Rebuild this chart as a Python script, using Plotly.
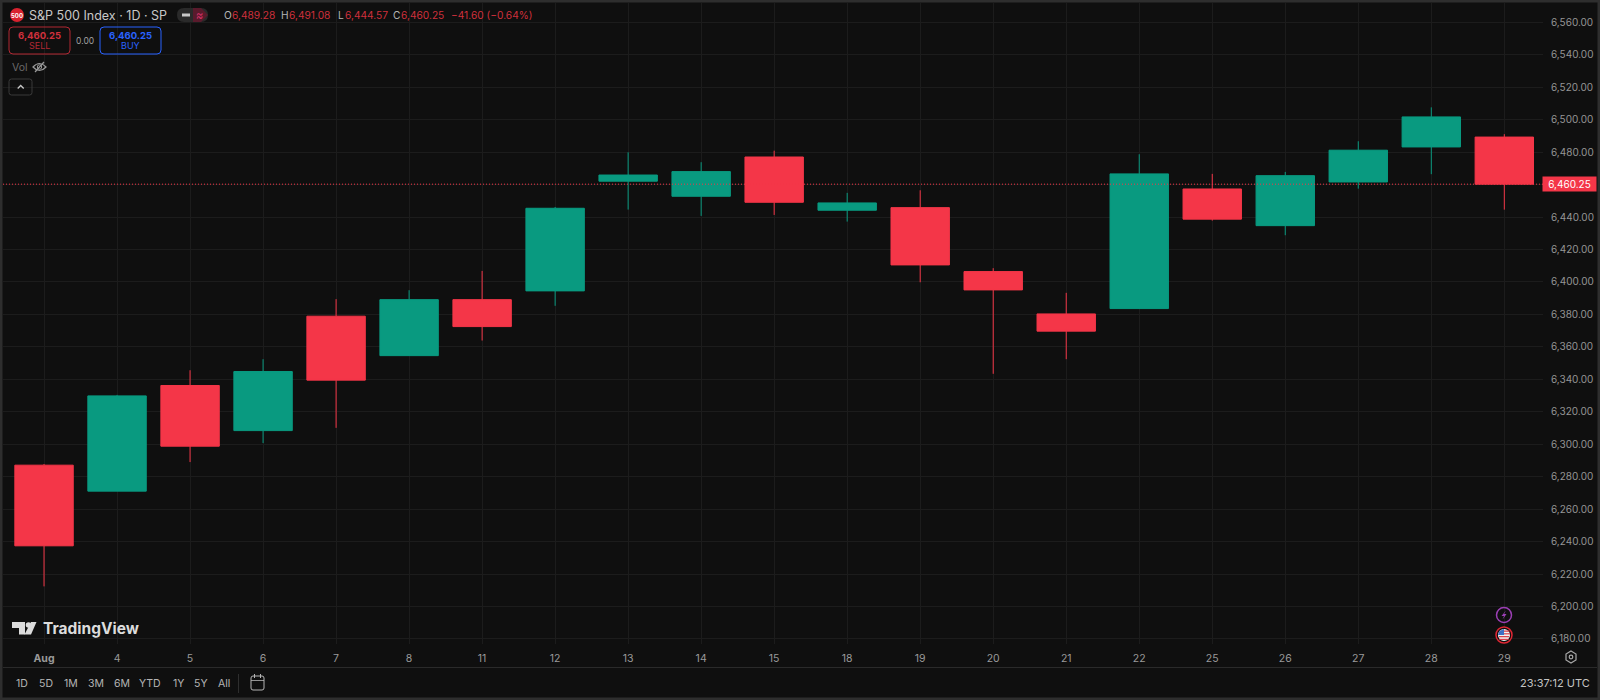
import plotly.graph_objects as go

W, H = 1600, 700
L, R, T, B = 3, 57, 3, 56

days = ["Aug", "4", "5", "6", "7", "8", "11", "12", "13", "14", "15", "18", "19", "20", "21", "22", "25", "26", "27", "28", "29"]
opens = [6287.1, 6271.1, 6336.2, 6308.4, 6378.9, 6354.6, 6389.1, 6394.5, 6462.1, 6452.8, 6477.0, 6444.2, 6445.8, 6406.4, 6380.3, 6383.6, 6457.3, 6434.7, 6461.6, 6483.2, 6489.28]
highs = [6287.8, 6330.4, 6345.6, 6352.4, 6389.4, 6394.9, 6406.8, 6446.2, 6479.9, 6473.8, 6480.9, 6454.9, 6456.5, 6408.5, 6393.3, 6478.7, 6466.6, 6467.8, 6486.7, 6507.6, 6491.08]
lows = [6212.4, 6271.1, 6289.0, 6300.7, 6310.1, 6354.6, 6363.9, 6385.3, 6444.6, 6440.7, 6441.3, 6437.2, 6399.8, 6343.4, 6352.4, 6383.6, 6437.8, 6428.8, 6457.5, 6466.4, 6444.57]
closes = [6237.4, 6329.8, 6298.8, 6344.8, 6339.5, 6389.1, 6372.5, 6445.4, 6465.9, 6468.0, 6449.1, 6448.7, 6410.5, 6395.1, 6369.7, 6466.6, 6438.7, 6465.5, 6481.2, 6501.7, 6460.25]
price_ticks = list(range(6180, 6561, 20))
range_buttons = ["1D", "5D", "1M", "3M", "6M", "YTD", "1Y", "5Y", "All"]
button_x = [22, 46, 71, 96, 122, 150, 178, 201, 224]

BG = "#0f0f0f"
GRID = "#1c1c1c"
RED = "#f43648"
GREEN = "#099a80"
TXT = "#b4b4b4"
FONT = "Inter"

fig = go.Figure(go.Candlestick(
    x=list(range(len(days))), open=opens, high=highs, low=lows, close=closes,
    whiskerwidth=0,
    increasing=dict(line=dict(color=GREEN, width=1), fillcolor=GREEN),
    decreasing=dict(line=dict(color=RED, width=1), fillcolor=RED),
    showlegend=False, hoverinfo="skip",
))

def X(p): return (p - L) / (W - L - R)
def Y(p): return 1 - (p - T) / (H - T - B)

ann, shp = [], []

def text(x, y, s, color=TXT, size=11, anchor="left"):
    ann.append(dict(xref="paper", yref="paper", x=X(x), y=Y(y), text=s, showarrow=False,
                    xanchor=anchor, yanchor="middle", font=dict(color=color, size=size, family=FONT)))

def rect(x0, y0, x1, y1, line=None, fill=None, w=1, radius=None):
    if radius:
        r = radius
        path = (f"M {X(x0+r)} {Y(y0)} L {X(x1-r)} {Y(y0)} Q {X(x1)} {Y(y0)} {X(x1)} {Y(y0+r)} "
                f"L {X(x1)} {Y(y1-r)} Q {X(x1)} {Y(y1)} {X(x1-r)} {Y(y1)} L {X(x0+r)} {Y(y1)} "
                f"Q {X(x0)} {Y(y1)} {X(x0)} {Y(y1-r)} L {X(x0)} {Y(y0+r)} Q {X(x0)} {Y(y0)} {X(x0+r)} {Y(y0)} Z")
        shp.append(dict(type="path", xref="paper", yref="paper", path=path, line=dict(color=line or "rgba(0,0,0,0)", width=w),
                        fillcolor=fill or "rgba(0,0,0,0)", layer="above"))
    else:
        shp.append(dict(type="rect", xref="paper", yref="paper", x0=X(x0), x1=X(x1), y0=Y(y0), y1=Y(y1),
                        line=dict(color=line or "rgba(0,0,0,0)", width=w if line else 0), fillcolor=fill or "rgba(0,0,0,0)", layer="above"))

def circle(cx, cy, r, line=None, fill=None, w=1):
    shp.append(dict(type="circle", xref="paper", yref="paper", x0=X(cx-r), x1=X(cx+r), y0=Y(cy-r), y1=Y(cy+r),
                    line=dict(color=line or "rgba(0,0,0,0)", width=w if line else 0), fillcolor=fill or "rgba(0,0,0,0)", layer="above"))

def poly(points, line=None, fill=None, w=1, close=True):
    path = "M " + " L ".join(f"{X(a)} {Y(b)}" for a, b in points) + (" Z" if close else "")
    shp.append(dict(type="path", xref="paper", yref="paper", path=path,
                    line=dict(color=line or "rgba(0,0,0,0)", width=w if line else 0),
                    fillcolor=fill or "rgba(0,0,0,0)", layer="above"))

# frame
rect(1, 1, 1599, 699, line="#2e2e2e", w=3)
rect(3, 667, 1597, 668, fill="#2a2a2a")

# last price line
shp.append(dict(type="line", xref="paper", yref="y", x0=X(L), x1=X(W - R), y0=closes[-1], y1=closes[-1],
                line=dict(color=RED, width=1, dash="1px,2px"), layer="above"))
ann.append(dict(xref="paper", yref="y", x=X(1569.5), y=closes[-1], text="6,460.25", showarrow=False,
                xanchor="center", yanchor="middle", bgcolor=RED, borderpad=1, width=51, height=12,
                font=dict(color="#ffffff", size=10, family=FONT)))

# header
circle(17, 15, 7, fill="#d9222f")
text(17, 15, "<b>500</b>", "#ffffff", 6, "center")
text(27, 15, "S&P 500 Index · 1D · SP", "#c8c8c8", 12.5)
rect(177, 8, 208, 22, fill="#2a2a2a", radius=7)
poly([(193, 8), (201, 8), (208, 15), (201, 22), (193, 22)], fill="#5a1a2c")
rect(182, 13.5, 190, 16.5, fill="#c8c8c8")
text(200, 15, "≈", "#d8336a", 11, "center")
header = [(222, "O", "6,489.28", 230), (279, "H", "6,491.08", 287), (336, "L", "6,444.57", 343), (391, "C", "6,460.25", 399)]
for x0, letter, val, x1 in header:
    text(x0, 15, letter, TXT, 10.2)
    text(x1, 15, val, "#d0303c", 10.2)
text(449, 15, "−41.60 (−0.64%)", "#d0303c", 10.2)

# sell/buy
rect(9, 27, 70, 54, line="#b22833", radius=4)
text(39.5, 35.5, "<b>6,460.25</b>", "#d0303c", 9.5, "center")
text(39.5, 46, "SELL", "#b22833", 9, "center")
text(85, 41, "0.00", "#a0a0a0", 8.5, "center")
rect(100, 27, 161, 54, line="#2962ff", radius=4)
text(130.5, 35.5, "<b>6,460.25</b>", "#2962ff", 9.5, "center")
text(130.5, 46, "BUY", "#2962ff", 9, "center")

# vol row
text(10, 67, "Vol", "#6a6a6a", 10.5)
shp.append(dict(type="path", xref="paper", yref="paper", layer="above", line=dict(color="#9a9a9a", width=1.2),
                path=f"M {X(33)} {Y(67)} Q {X(39.5)} {Y(60)} {X(46)} {Y(67)} Q {X(39.5)} {Y(74)} {X(33)} {Y(67)} Z"))
circle(39.5, 67, 2.2, line="#9a9a9a", w=1)
poly([(35, 72), (44, 62)], line="#9a9a9a", w=1.2, close=False)
rect(9, 79, 32, 95, line="#3a3a3a", radius=2.5)
poly([(17.7, 88.5), (20.7, 85.5), (23.7, 88.5)], line="#c8c8c8", w=1.3, close=False)

# TradingView logo
poly([(12, 622), (25, 622), (25, 634.5), (19, 634.5), (19, 628), (12, 628)], fill="#dcdcdc")
circle(28.5, 625, 2.8, fill="#dcdcdc")
poly([(31, 622), (36.5, 622), (31, 634.5), (24.5, 634.5)], fill="#dcdcdc")
text(41, 628, "<b>TradingView</b>", "#dcdcdc", 15.5)

# event icons
circle(1504, 615, 7.5, line="#9c3fb5", w=1.5)
poly([(1506, 610.5), (1501.5, 616), (1504, 616), (1502.5, 619.5), (1506.5, 614), (1504, 614)], fill="#9c3fb5")
circle(1504, 635, 8, line="#e02734", w=1.5, fill=BG)
circle(1504, 635, 6, fill="#f2f2f2")
rect(1499, 636, 1509, 637.3, fill="#d8434f")
rect(1499.5, 638.8, 1508.5, 640, fill="#d8434f")
rect(1504, 630.5, 1509.5, 631.8, fill="#d8434f")
rect(1504, 633.2, 1510, 634.4, fill="#d8434f")
poly([(1504, 629), (1504, 635), (1498, 635), (1499.5, 631)], fill="#3c6fc4")

# gear
poly([(1571, 651), (1576, 654), (1576, 660), (1571, 663), (1566, 660), (1566, 654)], line="#a8a8a8", w=1.2)
circle(1571, 657, 1.8, line="#a8a8a8", w=1.2)

# bottom toolbar
for label, x in zip(range_buttons, button_x):
    text(x, 683, label, TXT, 10.5, "center")
rect(238, 674, 239, 693, fill="#2e2e2e")
rect(251, 676, 264, 690, line="#b4b4b4", radius=2)
rect(251, 680, 264, 680.8, fill="#b4b4b4")
rect(254, 674, 255, 678, fill="#b4b4b4")
rect(260, 674, 261, 678, fill="#b4b4b4")
text(1592, 683, "23:37:12 UTC", "#c4c4c4", 11, "right")

# the tick nearest the last price sits behind its label, so its own text is left out
y_labels = ["" if abs(v - closes[-1]) < 10 else f"{v:,.2f}" for v in price_ticks]

fig.update_layout(
    width=W, height=H, autosize=False,
    margin=dict(l=L, r=R, t=T, b=B, pad=0),
    paper_bgcolor=BG, plot_bgcolor=BG,
    showlegend=False, boxgap=0.2, boxgroupgap=0,
    annotations=ann, shapes=shp,
    font=dict(family=FONT, color="#9a9a9a", size=11),
    xaxis=dict(
        range=[-0.562, 20.53], tickmode="array", tickvals=list(range(len(days))),
        ticktext=[f"<b>{d}</b>" if d == "Aug" else d for d in days],
        rangeslider=dict(visible=False), showgrid=True, gridcolor=GRID, gridwidth=1,
        zeroline=False, showline=False, ticks="", ticklabelstandoff=6,
        tickfont=dict(size=10.5, color="#9a9a9a", family=FONT),
    ),
    yaxis=dict(
        side="right", range=[6176.9, 6571.9], tickmode="array", tickvals=price_ticks,
        ticktext=y_labels,
        showgrid=True, gridcolor=GRID, gridwidth=1, zeroline=False, showline=False,
        ticks="", ticklabelstandoff=7, tickfont=dict(size=10, color="#959595", family=FONT),
    ),
)

fig.write_html("out.html", config=dict(displayModeBar=False),
               post_script="document.body.style.margin='0';document.body.style.background='#0f0f0f';")
